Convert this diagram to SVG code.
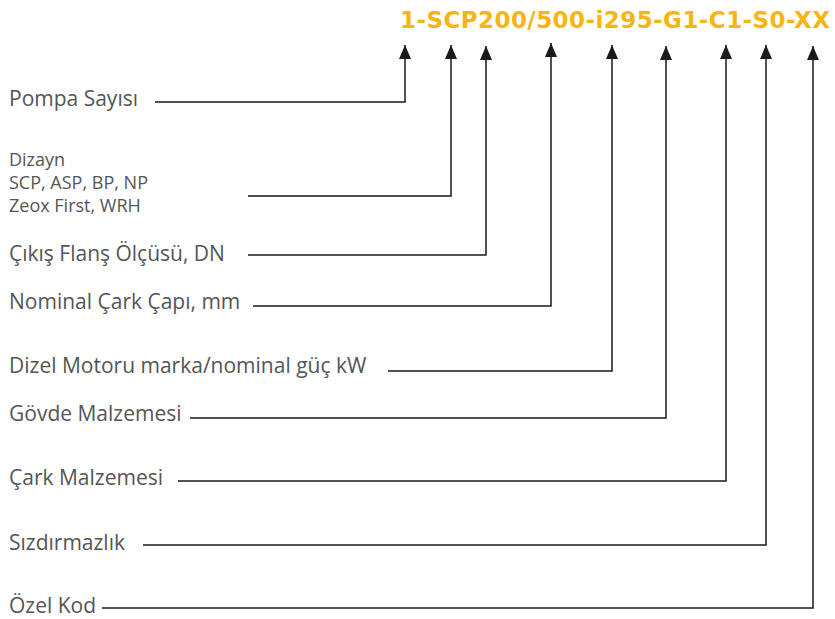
<svg xmlns="http://www.w3.org/2000/svg" width="835" height="619" viewBox="0 0 835 619">
<style>
.lbl{font-family:"Open Sans","Liberation Sans",sans-serif;font-size:21px;fill:#555}
.sm{font-size:18px}
.code{font-family:"DejaVu Sans","Open Sans",sans-serif;font-size:23px;font-weight:bold;fill:#F7B512}
.ln{fill:none;stroke:#1a1a1a;stroke-width:1.5}
</style>
<defs>
<marker id="ah" viewBox="0 0 14 12" refX="14" refY="6" markerWidth="14" markerHeight="12" markerUnits="userSpaceOnUse" orient="auto">
<path d="M0,0 L14,6 L0,12 Z" fill="#1a1a1a"/>
</marker>
</defs>
<rect width="835" height="619" fill="#fff"/>
<g id="code"><text class="code" x="400" y="28" textLength="430" lengthAdjust="spacing">1-SCP200/500-i295-G1-C1-S0-XX</text></g>
<g id="n1"><text class="lbl" x="9" y="106">Pompa Sayısı</text></g>
<g id="n2"><text class="lbl sm" x="9" y="166">Dizayn</text><text class="lbl sm" x="9" y="189">SCP, ASP, BP, NP</text><text class="lbl sm" x="9" y="212">Zeox First, WRH</text></g>
<g id="n3"><text class="lbl" x="9" y="261">Çıkış Flanş Ölçüsü, DN</text></g>
<g id="n4"><text class="lbl" x="9" y="309">Nominal Çark Çapı, mm</text></g>
<g id="n5"><text class="lbl" x="9" y="373">Dizel Motoru marka/nominal güç kW</text></g>
<g id="n6"><text class="lbl" x="9" y="421">Gövde Malzemesi</text></g>
<g id="n7"><text class="lbl" x="9" y="485">Çark Malzemesi</text></g>
<g id="n8"><text class="lbl" x="9" y="550">Sızdırmazlık</text></g>
<g id="n9"><text class="lbl" x="9" y="613">Özel Kod</text></g>
<g id="connectors">
<path class="ln" marker-end="url(#ah)" d="M155,102 H405 V45"/>
<path class="ln" marker-end="url(#ah)" d="M248,196 H451 V45"/>
<path class="ln" marker-end="url(#ah)" d="M248,255 H486 V46"/>
<path class="ln" marker-end="url(#ah)" d="M253,306 H551 V43"/>
<path class="ln" marker-end="url(#ah)" d="M388,371 H612 V45"/>
<path class="ln" marker-end="url(#ah)" d="M190,418 H666 V46"/>
<path class="ln" marker-end="url(#ah)" d="M178,481 H726 V45"/>
<path class="ln" marker-end="url(#ah)" d="M143,545 H766 V45"/>
<path class="ln" marker-end="url(#ah)" d="M102,608 H813 V46"/>
</g>
</svg>
